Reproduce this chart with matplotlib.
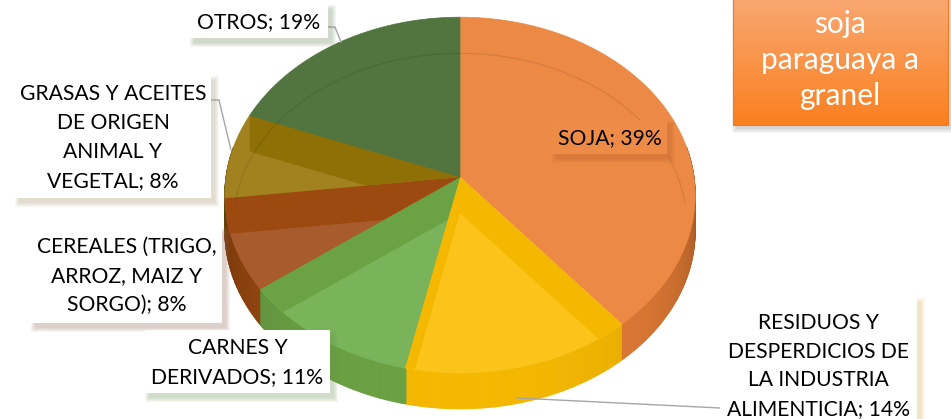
import numpy as np
import matplotlib.pyplot as plt
from matplotlib.patches import Polygon, Rectangle
from matplotlib.colors import to_rgb

# data (shares in %, clockwise from 12 o'clock)
categories = ["SOJA",
              "RESIDUOS Y\nDESPERDICIOS DE\nLA INDUSTRIA\nALIMENTICIA",
              "CARNES Y\nDERIVADOS",
              "CEREALES (TRIGO,\nARROZ, MAIZ Y\nSORGO)",
              "GRASAS Y ACEITES\nDE ORIGEN\nANIMAL Y\nVEGETAL",
              "OTROS"]
shares = [39.0, 14.4, 11.4, 8.3, 7.8, 19.1]
title_text = "soja\nparaguaya a\ngranel"

# styling
top_colors = ['#EC8944', '#FCC41A', '#79B45A', '#A85B2C', '#A2821F', '#52753F']
wall_colors = ['#E57C35', '#F5B800', '#6BA243', '#9D4A10', '#8E7006', '#43682B']
shadow_colors = ['#B8602A', '#D9B24A', '#6E9A52', '#9A6A58', '#A89A6A', '#6E8A60']

# pie geometry in pixels
CX, CY = 460, 177
RX, RY = 234, 176
K = 0.1013
D = 36

FONT = 'Lato'

fig = plt.figure(figsize=(9.51, 4.19), dpi=100)
ax = fig.add_axes([0, 0, 1, 1])
ax.set_xlim(0, 951)
ax.set_ylim(419, 0)
ax.axis('off')


def rim(phi, r=1.0):
    t = np.radians(phi)
    c = r * np.sin(t)
    s = -r * np.cos(t)
    d = 1 - K * s
    return CX + RX * c / d, CY + RY * s / d


bounds = 360 * np.concatenate([[0], np.cumsum(shares)]) / sum(shares)

# side wall, shaded towards the edges
phis = np.linspace(80, 280, 401)
for a, b in zip(phis[:-1], phis[1:]):
    m = (a + b) / 2
    i = np.searchsorted(bounds, m) - 1
    f = max(np.cos(np.radians(m - 180)), 0)
    shade = 0.45 + 0.55 * f ** 0.35
    col = np.clip(np.array(to_rgb(wall_colors[i])) * shade, 0, 1)
    xa, ya = rim(a)
    xb, yb = rim(b)
    ax.add_patch(Polygon([(xa, ya), (xb, yb), (xb, yb + D), (xa, ya + D)],
                         closed=True, fc=col, ec=col, lw=0.6, zorder=1))

# top faces + radial walls seen through
for i in range(len(shares)):
    ph = np.linspace(bounds[i], bounds[i + 1], 120)
    xs, ys = rim(ph)
    pts = [(CX, CY)] + list(zip(xs, ys))
    top = Polygon(pts, closed=True, fc=top_colors[i], ec=top_colors[i], lw=0.5, zorder=2)
    ax.add_patch(top)
    for bnd in (bounds[i], bounds[i + 1]):
        xb, yb = rim(bnd)
        band = Polygon([(CX, CY), (xb, yb), (xb, yb + D), (CX, CY + D)],
                       closed=True, fc=wall_colors[i], lw=0, zorder=3)
        ax.add_patch(band)
        band.set_clip_path(top)

# bevel line
ph = np.linspace(272, 448, 300) % 360
bx, by = rim(ph, 0.965)
ax.plot(bx, by + 31, color='k', alpha=0.10, lw=0.8, zorder=4)


def label_box(x0, y0, x1, y1, text, shadow, fc='white', tc='black', fs=15.2):
    for k in range(5):
        ax.add_patch(Rectangle((x0 + 4 - k, y0 + 5 - k), (x1 - x0) + 2 * k, (y1 - y0) + 2 * k,
                               fc=shadow, lw=0, alpha=0.07, zorder=6))
    ax.add_patch(Rectangle((x0, y0), x1 - x0, y1 - y0, fc=fc, lw=0, zorder=7))
    ax.text((x0 + x1) / 2, (y0 + y1) / 2 + 1, text, ha='center', va='center',
            fontsize=fs, family=FONT, color=tc, linespacing=1.55, zorder=8)


texts = [f"{c}; {round(v)}%" for c, v in zip(categories, shares)]
gray = '#A6A6A6'

# leader lines
ax.plot([322, 335, 341], [27, 27, 42], color=gray, lw=1.0, zorder=5)
ax.plot([207, 219, 231], [100, 100, 150], color=gray, lw=1.0, zorder=5)
ax.plot([517, 720], [398, 408], color=gray, lw=1.0, zorder=5)

label_box(552, 120, 667, 154, texts[0], shadow_colors[0], fc='#EE8B46')
label_box(720, 297, 917, 433, texts[1], shadow_colors[1])
label_box(145, 330, 330, 393, texts[2], shadow_colors[2])
label_box(31, 227, 222, 323, texts[3], shadow_colors[3])
label_box(15, 75, 211, 198, texts[4], shadow_colors[4])
label_box(190, 4, 328, 38, texts[5], shadow_colors[5])

# title box with gradient
for k in range(5):
    ax.add_patch(Rectangle((733 + 3 - k, -10 + 4 - k), 215 + 2 * k, 135 + 2 * k,
                           fc='#808080', lw=0, alpha=0.07, zorder=6))
c_top = np.array(to_rgb('#F8AA78'))
c_bot = np.array(to_rgb('#FB801F'))
tt = np.linspace(0, 1, 100)[:, None, None]
grad = c_top * (1 - tt) + c_bot * tt
ax.imshow(grad, extent=(733, 948, 125, -10), origin='upper', aspect='auto', zorder=7)
ax.add_patch(Rectangle((733, -10), 215, 135, fill=False, ec='#F07A20', lw=0.8, zorder=7))
ax.text(840, 60, title_text, ha='center', va='center', fontsize=21.5, family=FONT,
        color='white', linespacing=1.35, zorder=8)

ax.set_xlim(0, 951)
ax.set_ylim(419, 0)
fig.savefig('out.png', dpi=100)
